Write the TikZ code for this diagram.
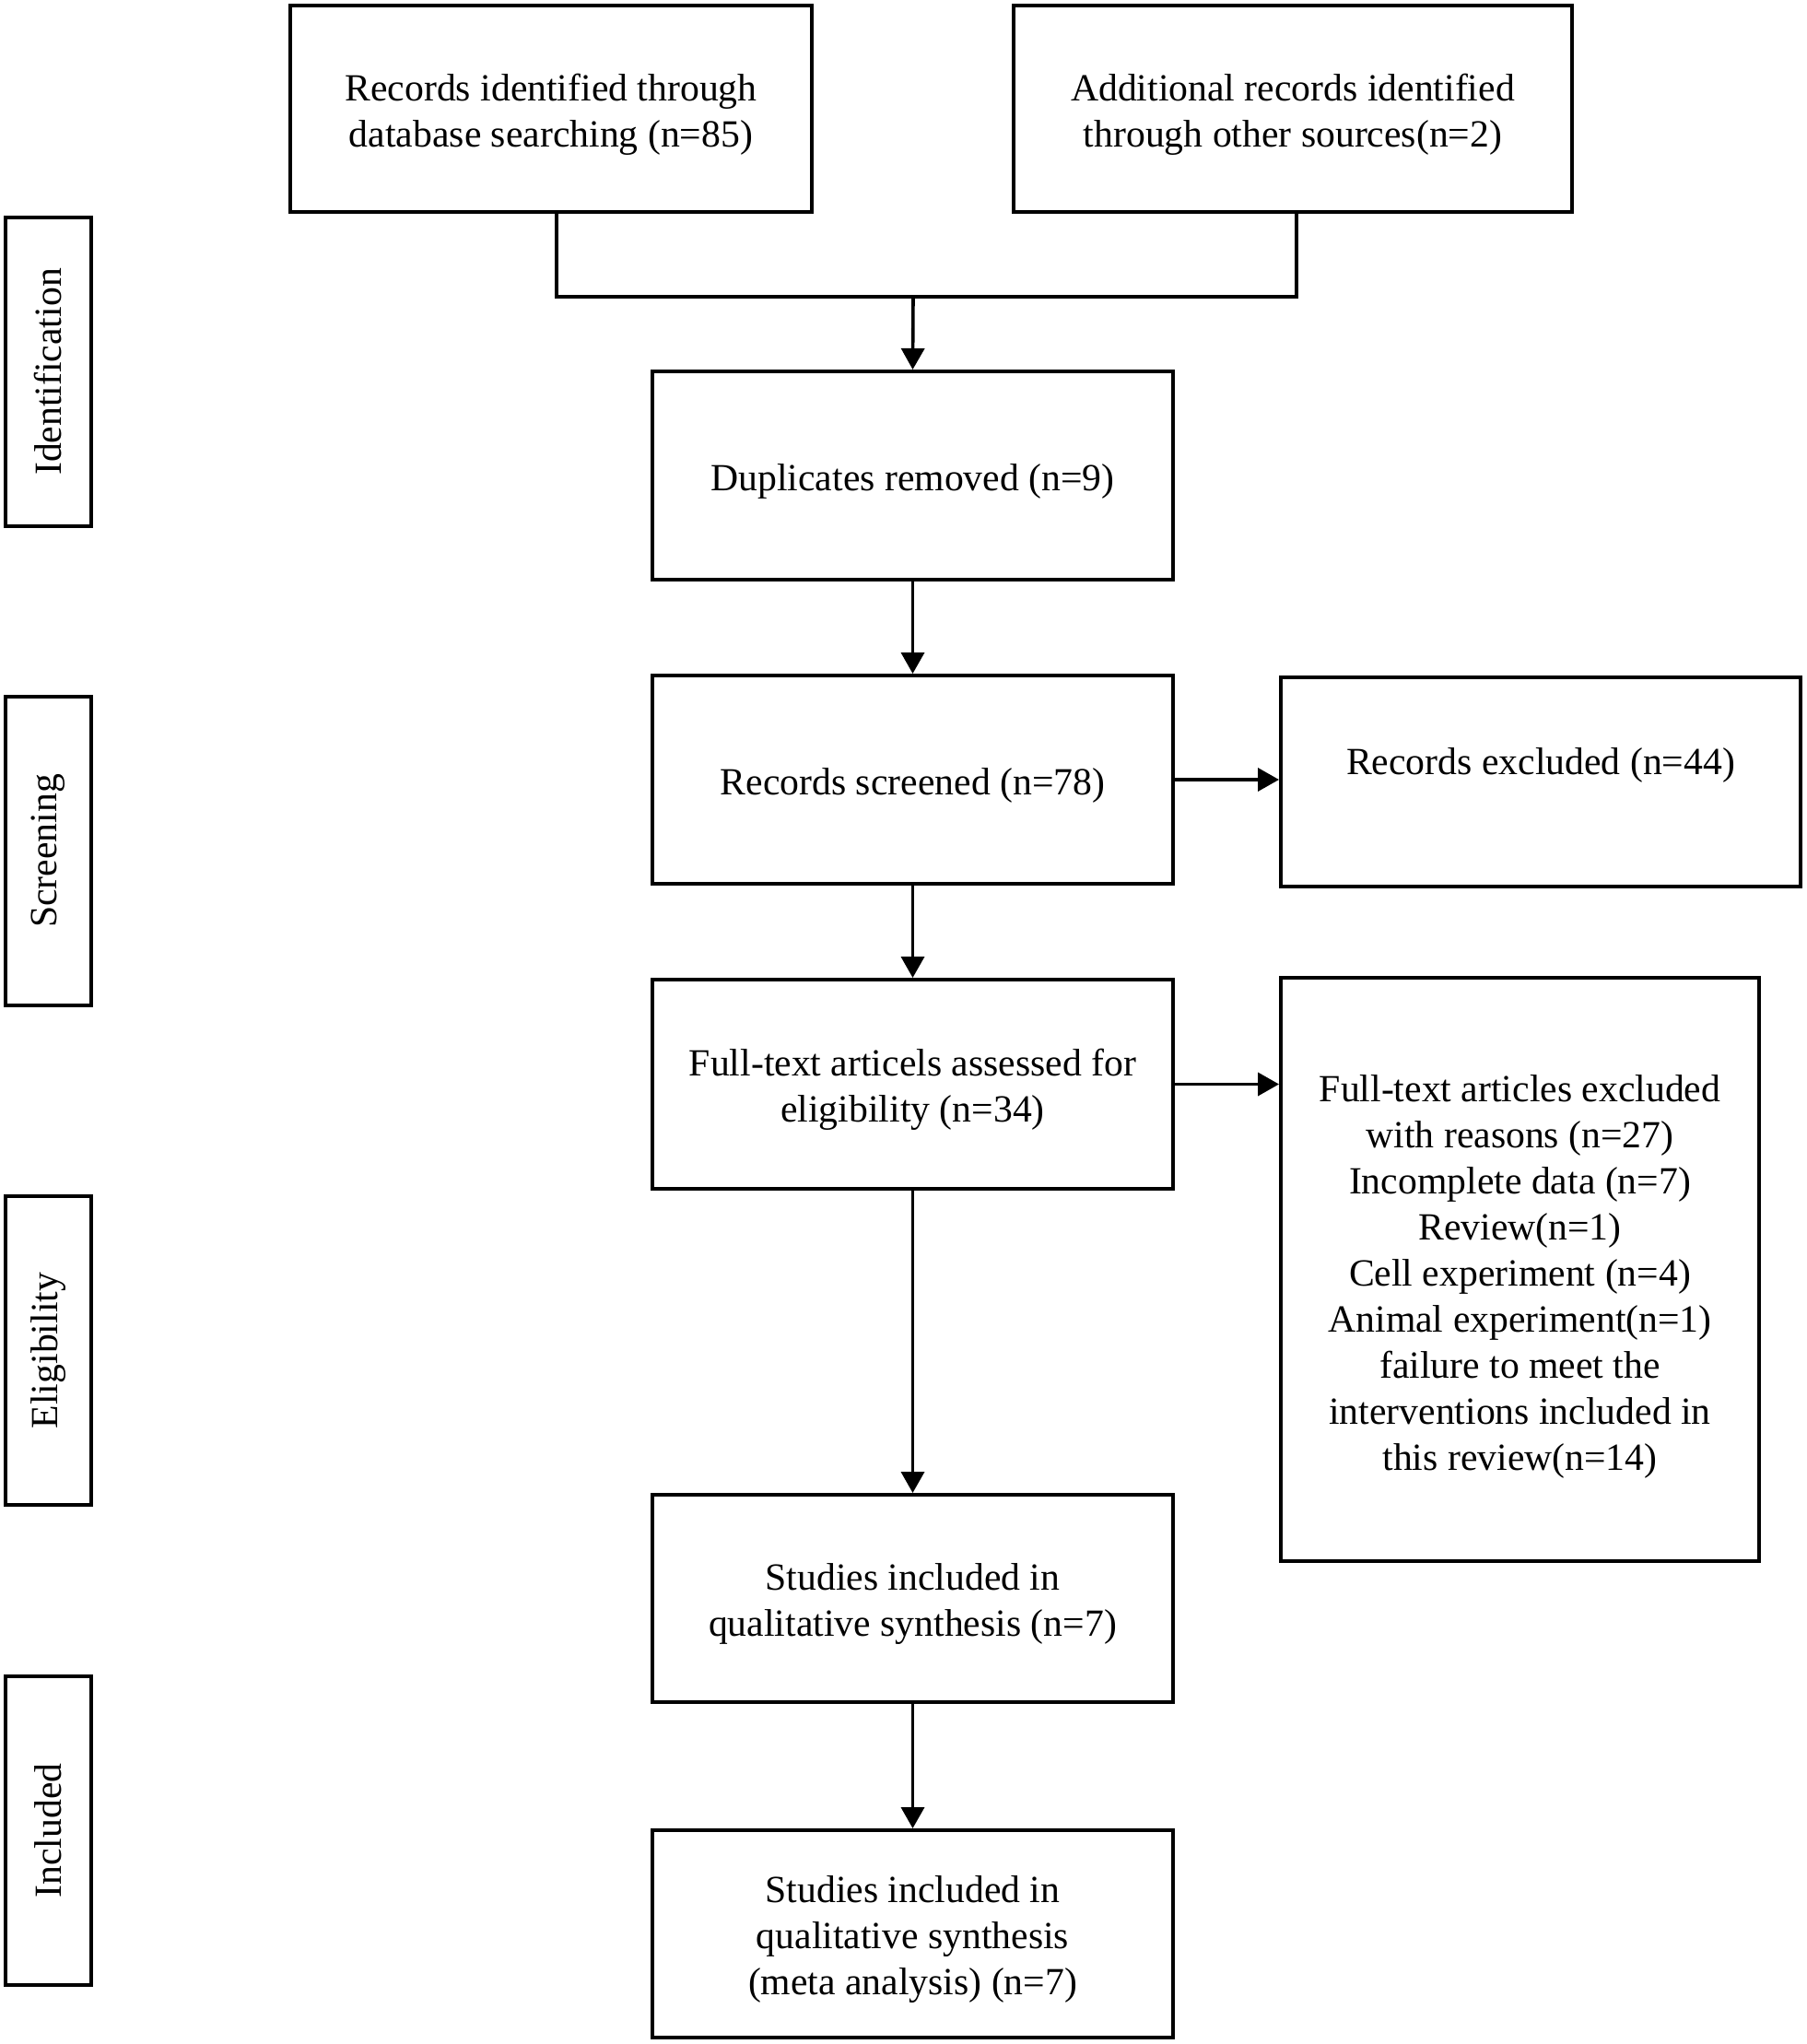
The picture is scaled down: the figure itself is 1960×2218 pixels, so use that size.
\documentclass[tikz,border=0pt]{standalone}
\usepackage{fontspec}
\setmainfont{Liberation Serif}
\usetikzlibrary{arrows.meta}
\tikzset{
  boxnode/.style={draw=black, line width=4pt, inner sep=0pt},
  sidebox/.style={draw=black, line width=4pt, inner sep=0pt, align=center, rotate=90,
    minimum width=335pt, minimum height=93pt, font=\fontsize{41.7}{50}\selectfont},
  txtnode/.style={inner sep=0pt, align=center, font=\fontsize{41.7}{50}\selectfont},
  conn/.style={line width=3.6pt},
  arr/.style={line width=3.6pt, -{Triangle[length=23pt,width=25pt]}}
}
\begin{document}
\begin{tikzpicture}[x=1pt,y=-1pt]
\useasboundingbox (0,0) rectangle (1960,2218);
\fill[white] (0,0) rectangle (1960,2218);
% side labels
\node[sidebox] (id) at (52.5,403.5) {Identification};
\node[sidebox] (sc) at (52.5,923.5) {Screening};
\node[sidebox] (el) at (52.5,1465.5) {Eligibility};
\node[sidebox] (in) at (52.5,1986.5) {Included};
% main boxes
\node[boxnode, minimum width=566pt, minimum height=224pt] (b1) at (598,118) {};
\node[txtnode] (b1t) at ([yshift=-6pt]b1.center) {Records identified through\\database searching (n=85)};
\node[boxnode, minimum width=606pt, minimum height=224pt] (b2) at (1403,118) {};
\node[txtnode] (b2t) at ([yshift=-6pt]b2.center) {Additional records identified\\through other sources(n=2)};
\node[boxnode, minimum width=565pt, minimum height=226pt] (dup) at (990.5,516) {};
\node[txtnode] (dupt) at ([yshift=-6pt]dup.center) {Duplicates removed (n=9)};
\node[boxnode, minimum width=565pt, minimum height=226pt] (scr) at (990.5,846) {};
\node[txtnode] (scrt) at ([yshift=-6pt]scr.center) {Records screened (n=78)};
\node[boxnode, minimum width=564pt, minimum height=227pt] (exc1) at (1672,848) {};
\node[txtnode] (exc1t) at (1672,830) {Records excluded (n=44)};
\node[boxnode, minimum width=565pt, minimum height=227pt] (ft) at (990.5,1176.5) {};
\node[txtnode] (ftt) at ([yshift=-6pt]ft.center) {Full-text articels assessed for\\eligibility (n=34)};
\node[boxnode, minimum width=519pt, minimum height=633pt] (exc2) at (1649.5,1377.5) {};
\node[txtnode] (exc2t) at ([yshift=-8pt]exc2.center) {Full-text articles excluded\\with reasons (n=27)\\Incomplete data (n=7)\\Review(n=1)\\Cell experiment (n=4)\\Animal experiment(n=1)\\failure to meet the\\interventions included in\\this review(n=14)};
\node[boxnode, minimum width=565pt, minimum height=225pt] (stud) at (990.5,1734.5) {};
\node[txtnode] (studt) at ([yshift=-6pt]stud.center) {Studies included in\\qualitative synthesis (n=7)};
\node[boxnode, minimum width=565pt, minimum height=225pt] (fin) at (990.5,2098.5) {};
\node[txtnode] (fint) at ([yshift=-6pt]fin.center) {Studies included in\\qualitative synthesis\\(meta analysis) (n=7)};
% connectors
\coordinate (m1) at (604,322);
\coordinate (m2) at (1407,322);
\coordinate (mj) at (991,322);
\draw[conn] (b1.south -| m1) -- (m1) -- (m2) -- (b2.south -| m2);
\draw[arr] (mj) -- (dup.north);
\draw[arr] (dup.south) -- (scr.north);
\draw[arr] (scr.east) -- (scr.east -| exc1.west);
\draw[arr] (scr.south) -- (ft.north);
\draw[arr] (ft.east) -- (ft.east -| exc2.west);
\draw[arr] (ft.south) -- (stud.north);
\draw[arr] (stud.south) -- (fin.north);
\end{tikzpicture}
\end{document}
